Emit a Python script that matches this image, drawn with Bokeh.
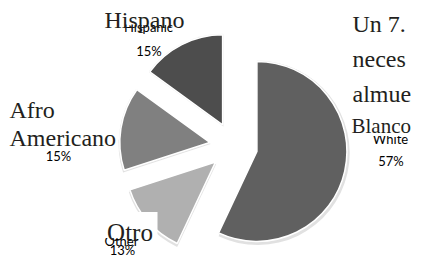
import numpy as np
from bokeh.plotting import figure
from bokeh.models import Range1d
from bokeh.core.properties import value
from bokeh.embed import file_html
from bokeh.resources import INLINE

# ---- data ----
categories_es = ["Blanco", "Otro", "Afro Americano", "Hispano"]
categories_en = ["White", "Other", "African American", "Hispanic"]
shares = [57, 13, 15, 15]
pct_labels = ["57%", "13%", "15%", "15%"]
side_text = ["Un 7.", "neces", "almue"]

# ---- styles ----
colors = ["#606060", "#b0b0b0", "#808080", "#4d4d4d"]
SERIF = value("Liberation Serif")
SANS = value("Lato")

W, H = 412, 257
p = figure(width=W, height=H, x_range=Range1d(0, W), y_range=Range1d(0, H),
           output_backend="svg", toolbar_location=None,
           x_axis_type=None, y_axis_type=None, min_border=0,
           outline_line_color=None, background_fill_color="white",
           border_fill_color="white")
p.grid.visible = False


def X(sx):
    return sx - 8


def Y(sy):
    return 265 - sy


# pie geometry
cx, cy = X(241), Y(153.7)
R = 90
EXPLODE = 24

frac = np.array(shares, dtype=float) / sum(shares)
cum = np.cumsum(frac)
a_start = np.deg2rad(90 - 360 * cum)
a_end = np.deg2rad(90 - 360 * (cum - frac))
mid = (a_start + a_end) / 2
xs = cx + EXPLODE * np.cos(mid)
ys = cy + EXPLODE * np.sin(mid)

# shadows
p.wedge(x=xs + 0.8, y=ys - 1.6, radius=R + 2.0, start_angle=a_start, end_angle=a_end,
        fill_color="#c8c8c8", fill_alpha=0.55, line_color=None)
p.wedge(x=xs, y=ys, radius=R + 1.0, start_angle=a_start, end_angle=a_end,
        fill_color="#e6e6e6", fill_alpha=0.6, line_color=None)
# slices
p.wedge(x=xs, y=ys, radius=R, start_angle=a_start, end_angle=a_end,
        fill_color=colors, line_color="white", line_width=1.5)

# partially hidden English labels
en_pos = {"White": (398, 146.5), "Other": (129, 248.5), "Hispanic": (156, 34.5)}
for name in categories_en:
    if name in en_pos:
        px, py = en_pos[name]
        p.text(x=[X(px)], y=[Y(py)], text=[name], text_font=SANS, text_font_size="13px",
               text_align="center", text_baseline="alphabetic", text_color="#000000")

# white label boxes (left, right, top, bottom in screen px)
boxes = [(110, 194, 6, 32), (14, 127, 122, 147), (110, 165, 219.5, 245.5), (356, 420, 112, 143.5)]
for l, r, t, b in boxes:
    p.quad(left=[X(l)], right=[X(r)], top=[Y(t)], bottom=[Y(b)],
           fill_color="white", line_color=None)

# Spanish labels
es_pos = {"Blanco": [(359, 133, "left", "21px")],
          "Otro": [(137.5, 239.5, "center", "25px")],
          "Afro Americano": [(17, 117, "left", "24px"), (17, 145, "left", "24px")],
          "Hispano": [(152, 27, "center", "24px")]}
for name in categories_es:
    parts = name.split(" ")
    for txt, (px, py, al, fs) in zip(parts, es_pos[name]):
        p.text(x=[X(px)], y=[Y(py)], text=[txt], text_font=SERIF, text_font_size=fs,
               text_align=al, text_baseline="alphabetic", text_color="#231f20")

# percentage labels
pct_pos = [(398.5, 168), (130, 257), (66, 163), (156.5, 58)]
for txt, (px, py) in zip(pct_labels, pct_pos):
    p.text(x=[X(px)], y=[Y(py)], text=[txt], text_font=SANS, text_font_size="13px",
           text_align="center", text_baseline="alphabetic", text_color="#000000")

# body text at the right
for i, txt in enumerate(side_text):
    p.text(x=[X(360)], y=[Y(31 + 35 * i)], text=[txt], text_font=SERIF,
           text_font_size="24px", text_align="left", text_baseline="alphabetic",
           text_color="#231f20")

open("out.html", "w").write(file_html(p, INLINE))
